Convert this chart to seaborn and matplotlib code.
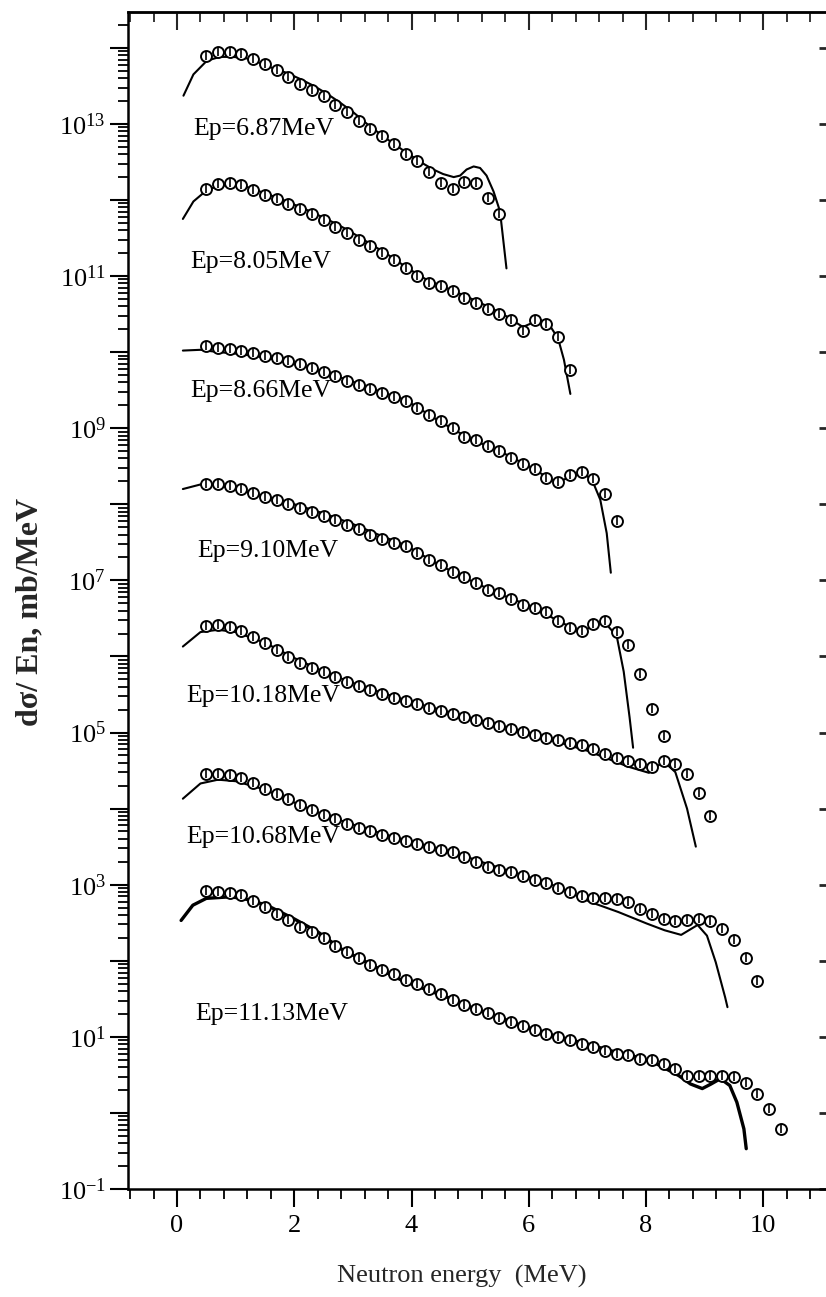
import numpy as np
import pandas as pd
import matplotlib
matplotlib.use("Agg")
import matplotlib.pyplot as plt
import seaborn as sns
from matplotlib.ticker import MultipleLocator, LogLocator, FuncFormatter, NullFormatter

# ---------------- data (energies in MeV, values as log10 of mb/MeV) -------------
labels = ["Ep=6.87MeV", "Ep=8.05MeV", "Ep=8.66MeV", "Ep=9.10MeV",
          "Ep=10.18MeV", "Ep=10.68MeV", "Ep=11.13MeV"]

exp1_E = [0.5,0.7,0.9,1.1,1.3,1.5,1.7,1.9,2.1,2.3,2.5,2.7,2.9,3.1,3.3,3.5,3.7,3.9,4.1,4.3,4.5,4.7,4.9,5.1,5.3,5.5]
exp1_L = [13.89,13.95,13.95,13.92,13.85,13.78,13.71,13.62,13.52,13.45,13.37,13.25,13.15,13.04,12.93,12.84,12.73,12.61,12.51,12.37,12.22,12.15,12.24,12.22,12.03,11.82]
th1_E = [0.11,0.28,0.51,0.73,0.96,1.19,1.42,1.64,1.87,2.10,2.33,2.55,2.78,3.01,3.24,3.46,3.69,3.92,4.15,4.37,4.54,4.72,4.83,4.94,5.06,5.17,5.28,5.40,5.51,5.62]
th1_L = [13.37,13.65,13.83,13.88,13.88,13.86,13.80,13.73,13.67,13.59,13.50,13.40,13.28,13.15,13.00,12.87,12.74,12.62,12.50,12.40,12.34,12.30,12.32,12.40,12.44,12.42,12.32,12.11,11.85,11.10]

exp2_E = [0.5,0.7,0.9,1.1,1.3,1.5,1.7,1.9,2.1,2.3,2.5,2.7,2.9,3.1,3.3,3.5,3.7,3.9,4.1,4.3,4.5,4.7,4.9,5.1,5.3,5.5,5.7,5.9,6.1,6.3,6.5,6.7]
exp2_L = [12.14,12.21,12.22,12.19,12.13,12.07,12.01,11.94,11.88,11.81,11.74,11.65,11.56,11.47,11.39,11.30,11.21,11.11,11.00,10.91,10.87,10.80,10.71,10.64,10.57,10.50,10.42,10.28,10.42,10.37,10.20,9.77]
th2_E = [0.10,0.28,0.51,0.73,0.96,1.19,1.53,1.87,2.21,2.55,2.90,3.24,3.58,3.92,4.26,4.60,4.94,5.3,5.6,5.9,6.05,6.2,6.35,6.5,6.6,6.71]
th2_L = [11.75,11.98,12.13,12.19,12.19,12.17,12.08,11.98,11.87,11.75,11.61,11.45,11.29,11.11,10.95,10.84,10.73,10.60,10.48,10.33,10.38,10.42,10.36,10.18,9.90,9.45]

exp3_E = [0.5,0.7,0.9,1.1,1.3,1.5,1.7,1.9,2.1,2.3,2.5,2.7,2.9,3.1,3.3,3.5,3.7,3.9,4.1,4.3,4.5,4.7,4.9,5.1,5.3,5.5,5.7,5.9,6.1,6.3,6.5,6.7,6.9,7.1,7.3,7.5]
exp3_L = [10.08,10.06,10.04,10.02,9.99,9.95,9.92,9.88,9.84,9.79,9.74,9.68,9.62,9.57,9.52,9.46,9.41,9.36,9.26,9.17,9.09,9.00,8.89,8.85,8.76,8.70,8.61,8.53,8.46,8.34,8.29,8.38,8.43,8.33,8.13,7.78]
th3_E = [0.1,0.4,0.7,1.0,1.5,2.0,2.5,3.0,3.5,3.9,4.5,5.0,5.5,6.0,6.48,6.7,6.91,7.08,7.22,7.33,7.40]
th3_L = [10.02,10.03,10.00,9.98,9.93,9.85,9.74,9.61,9.47,9.37,9.08,8.86,8.70,8.50,8.28,8.36,8.42,8.32,8.06,7.62,7.10]

exp4_E = [0.5,0.7,0.9,1.1,1.3,1.5,1.7,1.9,2.1,2.3,2.5,2.7,2.9,3.1,3.3,3.5,3.7,3.9,4.1,4.3,4.5,4.7,4.9,5.1,5.3,5.5,5.7,5.9,6.1,6.3,6.5,6.7,6.9,7.1,7.3,7.5,7.7,7.9,8.1,8.3]
exp4_L = [8.27,8.27,8.24,8.20,8.15,8.10,8.05,8.00,7.95,7.90,7.85,7.79,7.73,7.67,7.60,7.54,7.49,7.45,7.36,7.27,7.20,7.11,7.04,6.96,6.87,6.83,6.76,6.68,6.64,6.58,6.46,6.38,6.33,6.42,6.46,6.32,6.15,5.77,5.31,4.95]
th4_E = [0.1,0.4,0.7,1.0,1.5,2.0,2.5,3.0,3.5,3.9,4.5,5.0,5.5,6.0,6.5,6.88,7.1,7.28,7.5,7.62,7.72,7.78]
th4_L = [8.20,8.26,8.25,8.20,8.10,8.00,7.88,7.74,7.58,7.46,7.19,7.00,6.82,6.67,6.47,6.32,6.40,6.46,6.27,5.80,5.20,4.80]

exp5_E = [0.5,0.7,0.9,1.1,1.3,1.5,1.7,1.9,2.1,2.3,2.5,2.7,2.9,3.1,3.3,3.5,3.7,3.9,4.1,4.3,4.5,4.7,4.9,5.1,5.3,5.5,5.7,5.9,6.1,6.3,6.5,6.7,6.9,7.1,7.3,7.5,7.7,7.9,8.1,8.3,8.5,8.7,8.9,9.1]
exp5_L = [6.40,6.41,6.39,6.33,6.25,6.17,6.08,5.99,5.91,5.85,5.79,5.73,5.67,5.61,5.56,5.51,5.46,5.41,5.37,5.32,5.28,5.24,5.20,5.16,5.12,5.08,5.04,5.01,4.97,4.93,4.90,4.86,4.83,4.78,4.72,4.66,4.62,4.58,4.55,4.62,4.58,4.45,4.20,3.90]
th5_E = [0.1,0.4,0.7,1.0,1.5,2.0,2.5,3.0,3.5,4.0,5.0,6.0,7.0,7.7,8.05,8.3,8.5,8.7,8.85]
th5_L = [6.13,6.32,6.35,6.32,6.18,5.98,5.80,5.65,5.52,5.40,5.19,4.99,4.76,4.55,4.47,4.62,4.48,4.00,3.50]

exp6_E = [0.5,0.7,0.9,1.1,1.3,1.5,1.7,1.9,2.1,2.3,2.5,2.7,2.9,3.1,3.3,3.5,3.7,3.9,4.1,4.3,4.5,4.7,4.9,5.1,5.3,5.5,5.7,5.9,6.1,6.3,6.5,6.7,6.9,7.1,7.3,7.5,7.7,7.9,8.1,8.3,8.5,8.7,8.9,9.1,9.3,9.5,9.7,9.9]
exp6_L = [4.45,4.46,4.44,4.40,4.33,4.26,4.19,4.12,4.05,3.98,3.92,3.86,3.80,3.75,3.70,3.65,3.61,3.57,3.53,3.49,3.46,3.43,3.36,3.30,3.23,3.19,3.16,3.12,3.06,3.02,2.95,2.90,2.85,2.82,2.82,2.81,2.77,2.68,2.62,2.55,2.52,2.53,2.55,2.52,2.42,2.27,2.04,1.73]
th6_E = [0.1,0.4,0.7,1.0,1.5,2.0,2.5,3.0,3.5,4.0,4.5,5.0,5.5,6.0,6.5,7.06,7.53,8.01,8.32,8.60,8.88,9.04,9.19,9.35,9.39]
th6_L = [4.13,4.33,4.38,4.36,4.25,4.08,3.92,3.79,3.67,3.56,3.46,3.35,3.22,3.10,2.97,2.77,2.64,2.49,2.40,2.34,2.47,2.33,1.98,1.52,1.39]

exp7_E = [0.5,0.7,0.9,1.1,1.3,1.5,1.7,1.9,2.1,2.3,2.5,2.7,2.9,3.1,3.3,3.5,3.7,3.9,4.1,4.3,4.5,4.7,4.9,5.1,5.3,5.5,5.7,5.9,6.1,6.3,6.5,6.7,6.9,7.1,7.3,7.5,7.7,7.9,8.1,8.3,8.5,8.7,8.9,9.1,9.3,9.5,9.7,9.9,10.1,10.3]
exp7_L = [2.92,2.90,2.89,2.86,2.78,2.71,2.62,2.53,2.44,2.38,2.30,2.19,2.11,2.03,1.94,1.88,1.82,1.75,1.69,1.63,1.56,1.49,1.42,1.36,1.31,1.25,1.20,1.14,1.09,1.04,1.00,0.96,0.91,0.86,0.82,0.78,0.76,0.71,0.69,0.64,0.58,0.49,0.49,0.49,0.49,0.47,0.39,0.25,0.05,-0.21]
th7_E = [0.07,0.27,0.50,0.90,1.13,1.53,2.00,2.40,2.79,3.11,3.43,3.82,4.22,4.61,5.01,5.40,5.80,6.19,6.59,6.98,7.38,7.77,8.17,8.56,8.76,8.96,9.11,9.27,9.43,9.55,9.67,9.71]
th7_L = [2.53,2.73,2.82,2.84,2.82,2.73,2.55,2.38,2.16,2.03,1.90,1.75,1.63,1.52,1.39,1.28,1.17,1.07,0.98,0.91,0.82,0.75,0.65,0.49,0.38,0.32,0.38,0.45,0.36,0.14,-0.21,-0.47]

# label anchor positions (left energy, log10 value)
label_E = [0.27, 0.22, 0.22, 0.34, 0.15, 0.15, 0.31]
label_L = [12.93, 11.19, 9.49, 7.39, 5.48, 3.63, 1.30]

exp_E = [exp1_E, exp2_E, exp3_E, exp4_E, exp5_E, exp6_E, exp7_E]
exp_L = [exp1_L, exp2_L, exp3_L, exp4_L, exp5_L, exp6_L, exp7_L]
th_E = [th1_E, th2_E, th3_E, th4_E, th5_E, th6_E, th7_E]
th_L = [th1_L, th2_L, th3_L, th4_L, th5_L, th6_L, th7_L]

exp_df = pd.concat([pd.DataFrame({"E": e, "val": np.power(10.0, l), "spec": i})
                    for i, (e, l) in enumerate(zip(exp_E, exp_L))], ignore_index=True)
th_df = pd.concat([pd.DataFrame({"E": e, "val": np.power(10.0, l), "spec": i})
                   for i, (e, l) in enumerate(zip(th_E, th_L))], ignore_index=True)

# ---------------- style ------------------------------------------------------
sns.set_style("ticks")
plt.rcParams['font.family'] = ['Liberation Serif', 'DejaVu Serif']
plt.rcParams['mathtext.fontset'] = 'custom'
plt.rcParams['mathtext.rm'] = 'Liberation Serif'
plt.rcParams['mathtext.it'] = 'Liberation Serif:italic'
plt.rcParams['mathtext.bf'] = 'Liberation Serif:bold'
plt.rcParams['axes.unicode_minus'] = False

W, H = 826, 1297
fig = plt.figure(figsize=(W / 100, H / 100), dpi=100)
ax = fig.add_axes([128 / W, 108 / H, 705 / W, 1177 / H])
ax.set_yscale("log")

thin = th_df[th_df.spec < 6]
thick = th_df[th_df.spec == 6]
sns.lineplot(data=thin, x="E", y="val", units="spec", estimator=None, sort=False,
             color="black", linewidth=1.5, ax=ax, legend=False)
sns.lineplot(data=thick, x="E", y="val", estimator=None, sort=False,
             color="black", linewidth=2.4, ax=ax, legend=False)

sns.scatterplot(data=exp_df, x="E", y="val", marker="o", s=62, color="white",
                edgecolor="black", linewidth=1.4, ax=ax, legend=False, zorder=3)
sns.scatterplot(data=exp_df, x="E", y="val", marker="|", s=30, color="black",
                linewidth=1.2, ax=ax, legend=False, zorder=4)

for lab, le, ll in zip(labels, label_E, label_L):
    ax.text(le, 10 ** ll, lab, fontsize=18.5, ha="left", va="center", color="black")

ax.set_xlim(-0.836, 11.19)
ax.set_ylim(10 ** -1, 10 ** 14.47)

# ticks
ax.xaxis.set_major_locator(MultipleLocator(2))
ax.xaxis.set_minor_locator(MultipleLocator(0.4))
ax.yaxis.set_major_locator(LogLocator(base=10, subs=(1.0,), numticks=40))
ax.yaxis.set_minor_locator(LogLocator(base=10, subs=tuple(range(2, 10)), numticks=400))

def yfmt(v, pos):
    e = int(round(np.log10(v)))
    return r"$10^{%d}$" % e if e % 2 != 0 else ""

ax.yaxis.set_major_formatter(FuncFormatter(yfmt))
ax.yaxis.set_minor_formatter(NullFormatter())
ax.xaxis.set_major_formatter(FuncFormatter(lambda v, p: "%d" % round(v)))

ax.tick_params(which="both", direction="out", top=False, right=False, colors="black")
ax.tick_params(which="major", length=13, width=1.5, labelsize=19, pad=3)
ax.tick_params(which="minor", length=7, width=1.3)
ax.tick_params(axis="x", which="major", pad=6)

sec_x = ax.secondary_xaxis("top")
sec_x.xaxis.set_major_locator(MultipleLocator(2))
sec_x.xaxis.set_minor_locator(MultipleLocator(0.4))
sec_x.tick_params(which="both", direction="in", labeltop=False)
sec_x.tick_params(which="major", length=13, width=1.5)
sec_x.tick_params(which="minor", length=7, width=1.3)

sec_y = ax.secondary_yaxis("right")
sec_y.yaxis.set_major_locator(LogLocator(base=10, subs=(1.0,), numticks=40))
sec_y.yaxis.set_minor_locator(LogLocator(base=10, subs=tuple(range(2, 10)), numticks=400))
sec_y.tick_params(which="both", direction="in", labelright=False)
sec_y.tick_params(which="major", length=10, width=2.0)
sec_y.tick_params(which="minor", length=2, width=1.0)

for sp in ax.spines.values():
    sp.set_linewidth(1.8)
    sp.set_color("black")
for sp in list(sec_x.spines.values()) + list(sec_y.spines.values()):
    sp.set_linewidth(1.8)

ax.set_xlabel("Neutron energy  (MeV)", fontsize=19)
ax.xaxis.set_label_coords((462 - 128) / 705, -(1265 - 1189) / 1177)
ax.set_ylabel("")
fig.text(30 / W, 1 - 612 / H, "dσ/ En, mb/MeV", rotation=90, fontsize=23,
         fontweight="bold", ha="center", va="center")

fig.savefig("out.png", dpi=100)
